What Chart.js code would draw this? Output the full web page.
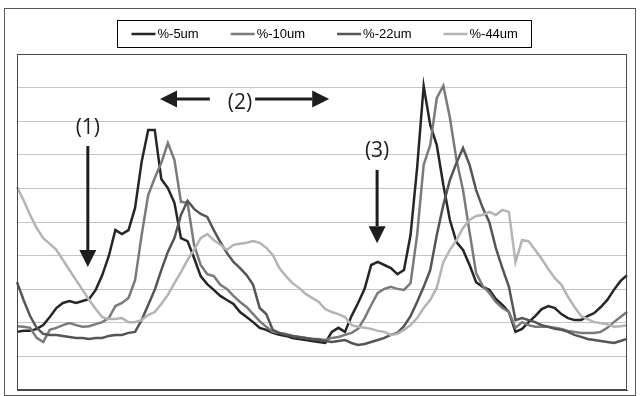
<!DOCTYPE html>
<html lang="en">
<head>
  <meta charset="UTF-8" />
  <title>Particle size fractions</title>
  <style>
    html, body { margin: 0; padding: 0; background: #fff; }
    canvas { display: block; }
  </style>
</head>
<body>
  <canvas id="chart" width="640" height="396"></canvas>

  <script src="https://cdn.jsdelivr.net/npm/chart.js"></script>
  <script>
    // sample number along the x axis (no tick labels shown in the original)
    const samples = Array.from({ length: 94 }, (_, i) => i + 1);

    const seriesNames = ['%-5um', '%-10um', '%-22um', '%-44um'];
    const seriesColors = ['#262626', '#7a7a7a', '#555555', '#b4b4b4'];

    // values, y axis 0..10 (one unit per gridline)
    const pct5 = [
      1.73, 1.76, 1.76, 1.82, 1.93, 2.17, 2.44, 2.59, 2.65, 2.59,
      2.65, 2.71, 2.98, 3.42, 3.99, 4.76, 4.64, 4.76, 5.42, 6.79,
      7.74, 7.74, 6.28, 6.01, 5.57, 4.52, 4.43, 3.93, 3.39, 3.15,
      2.98, 2.80, 2.68, 2.56, 2.32, 2.17, 2.02, 1.85, 1.79, 1.70,
      1.64, 1.61, 1.55, 1.52, 1.49, 1.46, 1.43, 1.40, 1.73, 1.85,
      1.73, 2.20, 2.59, 3.01, 3.72, 3.81, 3.72, 3.63, 3.45, 3.57,
      4.61, 6.61, 9.05, 7.89, 7.29, 6.10, 5.06, 4.40, 4.17, 3.72,
      3.21, 3.07, 2.98, 2.71, 2.53, 2.32, 1.73, 1.82, 2.02, 2.20,
      2.41, 2.50, 2.44, 2.26, 2.14, 2.08, 2.08, 2.20, 2.29, 2.47,
      2.68, 2.98, 3.24, 3.42
    ];
    const pct10 = [
      1.90, 1.88, 1.85, 1.55, 1.43, 1.79, 1.85, 1.93, 1.99, 1.93,
      1.88, 1.90, 1.96, 2.02, 2.14, 2.50, 2.59, 2.74, 3.27, 4.61,
      5.80, 6.31, 6.76, 7.35, 6.85, 5.60, 5.57, 4.32, 3.72, 3.45,
      3.39, 3.13, 3.01, 2.80, 2.62, 2.47, 2.26, 2.05, 1.88, 1.73,
      1.70, 1.67, 1.61, 1.58, 1.55, 1.52, 1.52, 1.49, 1.55, 1.58,
      1.64, 1.70, 1.82, 2.14, 2.53, 2.89, 3.01, 3.07, 3.01, 2.98,
      3.18, 4.61, 6.70, 7.29, 8.69, 9.05, 8.10, 6.85, 5.95, 4.70,
      3.48, 3.10, 2.89, 2.62, 2.44, 2.32, 1.85, 2.02, 1.93, 1.88,
      1.88, 1.88, 1.85, 1.82, 1.76, 1.73, 1.70, 1.70, 1.70, 1.73,
      1.85, 2.02, 2.17, 2.32
    ];
    const pct22 = [
      3.21, 2.68, 2.20, 1.85, 1.67, 1.64, 1.64, 1.61, 1.58, 1.55,
      1.55, 1.52, 1.55, 1.55, 1.61, 1.64, 1.64, 1.70, 1.73, 2.08,
      2.53, 2.98, 3.57, 4.11, 4.52, 5.21, 5.63, 5.39, 5.24, 5.15,
      4.76, 4.40, 4.08, 3.81, 3.63, 3.42, 3.13, 2.44, 2.26, 1.79,
      1.70, 1.64, 1.61, 1.58, 1.55, 1.52, 1.49, 1.46, 1.43, 1.46,
      1.49, 1.40, 1.34, 1.37, 1.43, 1.49, 1.55, 1.64, 1.70, 1.90,
      2.20, 2.62, 3.07, 3.57, 4.61, 5.51, 6.25, 6.76, 7.20, 6.70,
      5.95, 5.42, 5.00, 4.23, 3.63, 3.07, 2.08, 2.14, 2.08, 2.02,
      1.93, 1.88, 1.82, 1.79, 1.73, 1.64, 1.58, 1.52, 1.49, 1.46,
      1.43, 1.40, 1.46, 1.52
    ];
    const pct44 = [
      6.04, 5.65, 5.21, 4.82, 4.52, 4.35, 4.17, 3.87, 3.57, 3.27,
      2.98, 2.68, 2.41, 2.17, 2.11, 2.11, 2.14, 2.02, 2.02, 2.08,
      2.23, 2.32, 2.56, 2.83, 3.18, 3.51, 3.87, 4.17, 4.52, 4.64,
      4.46, 4.32, 4.17, 4.32, 4.35, 4.38, 4.43, 4.38, 4.23, 4.02,
      3.63, 3.39, 3.18, 3.04, 2.86, 2.74, 2.62, 2.41, 2.32, 2.26,
      2.17, 1.93, 1.88, 1.85, 1.82, 1.76, 1.73, 1.64, 1.67, 1.79,
      1.93, 2.14, 2.44, 2.68, 3.04, 3.81, 4.17, 4.46, 4.82, 5.06,
      5.18, 5.21, 5.30, 5.21, 5.36, 5.30, 3.81, 4.46, 4.43, 4.17,
      3.90, 3.60, 3.33, 3.13, 2.77, 2.47, 2.20, 2.11, 2.02, 1.99,
      1.96, 1.88, 1.90, 1.93
    ];

    const seriesValues = [pct5, pct10, pct22, pct44];

    const FONT_NOTE = "'Open Sans', 'Noto Sans', sans-serif";
    const FONT_LEGEND = "'Liberation Sans', Arial, sans-serif";
    const INK = '#1e1e1e';

    function arrow(ctx, x1, y1, x2, y2) {
      const ang = Math.atan2(y2 - y1, x2 - x1);
      const len = 17, half = 8.5;
      const bx = x2 - len * Math.cos(ang), by = y2 - len * Math.sin(ang);
      ctx.beginPath();
      ctx.moveTo(x1, y1);
      ctx.lineTo(bx, by);
      ctx.stroke();
      ctx.beginPath();
      ctx.moveTo(x2, y2);
      ctx.lineTo(bx + half * Math.sin(ang), by - half * Math.cos(ang));
      ctx.lineTo(bx - half * Math.sin(ang), by + half * Math.cos(ang));
      ctx.closePath();
      ctx.fill();
    }

    const decorations = {
      id: 'decorations',
      afterDraw(chart) {
        const { ctx, chartArea: a, scales } = chart;
        const px = v => scales.x.getPixelForValue(v);
        const py = v => scales.y.getPixelForValue(v);
        ctx.save();

        // outer frame and plot frame
        ctx.lineWidth = 1;
        ctx.strokeStyle = '#5a5a5a';
        ctx.strokeRect(4.5, 8.5, 631, 387);
        ctx.strokeStyle = '#4a4a4a';
        ctx.strokeRect(Math.round(a.left) + 0.5, Math.round(a.top) + 0.5,
          Math.round(a.right - a.left) - 1, Math.round(a.bottom - a.top) - 1);

        // legend in a box
        ctx.font = '13px ' + FONT_LEGEND;
        ctx.textBaseline = 'middle';
        const sample = 24, gapText = 2, gapItem = 32, pad = 14;
        const widths = seriesNames.map(n => ctx.measureText(n).width);
        let total = pad * 2 + gapItem * (seriesNames.length - 1);
        widths.forEach(w => { total += sample + gapText + w; });
        const boxX = Math.round(324 - total / 2) + 0.5;
        ctx.strokeStyle = '#000';
        ctx.strokeRect(boxX, 20.5, Math.round(total), 27);
        let x = boxX + pad;
        seriesNames.forEach((n, i) => {
          ctx.strokeStyle = seriesColors[i];
          ctx.lineWidth = 2.5;
          ctx.beginPath();
          ctx.moveTo(x, 34);
          ctx.lineTo(x + sample, 34);
          ctx.stroke();
          ctx.fillStyle = '#000';
          ctx.textAlign = 'left';
          ctx.fillText(n, x + sample + gapText, 34.5);
          x += sample + gapText + widths[i] + gapItem;
        });

        // annotations
        ctx.fillStyle = INK;
        ctx.strokeStyle = INK;
        ctx.lineWidth = 3;
        ctx.font = '21px ' + FONT_NOTE;
        ctx.textAlign = 'center';
        ctx.textBaseline = 'middle';

        ctx.fillText('(1)', px(10.8), py(7.8));
        arrow(ctx, px(10.8), py(7.26), px(10.8), py(3.66));

        ctx.fillText('(2)', px(34.0), py(8.55));
        arrow(ctx, px(29.4), py(8.66), px(21.8), py(8.66));
        arrow(ctx, px(36.3), py(8.66), px(47.6), py(8.66));

        ctx.fillText('(3)', px(54.9), py(7.12));
        arrow(ctx, px(54.9), py(6.55), px(54.9), py(4.37));

        ctx.restore();
      }
    };

    const ctx = document.getElementById('chart').getContext('2d');

    const chart = new Chart(ctx, {
      type: 'line',
      data: {
        labels: samples,
        datasets: seriesNames.map((name, i) => ({
          label: name,
          data: seriesValues[i],
          borderColor: seriesColors[i],
          backgroundColor: seriesColors[i],
          borderWidth: 2.5,
          pointRadius: 0,
          tension: 0,
          fill: false,
          order: seriesNames.length - i
        }))
      },
      options: {
        responsive: false,
        animation: false,
        devicePixelRatio: 1,
        layout: { padding: { left: 17, right: 13, top: 54, bottom: 6 } },
        plugins: {
          legend: { display: false },
          tooltip: { enabled: false }
        },
        scales: {
          x: {
            type: 'category',
            offset: false,
            grid: { display: false, drawTicks: false },
            border: { display: true, color: '#4a4a4a' },
            ticks: { display: false }
          },
          y: {
            min: 0,
            max: 10,
            grid: { color: '#c4c4c4', lineWidth: 1, drawTicks: false },
            border: { display: true, color: '#4a4a4a' },
            ticks: { display: false, stepSize: 1 }
          }
        }
      },
      plugins: [decorations]
    });
  </script>
</body>
</html>
